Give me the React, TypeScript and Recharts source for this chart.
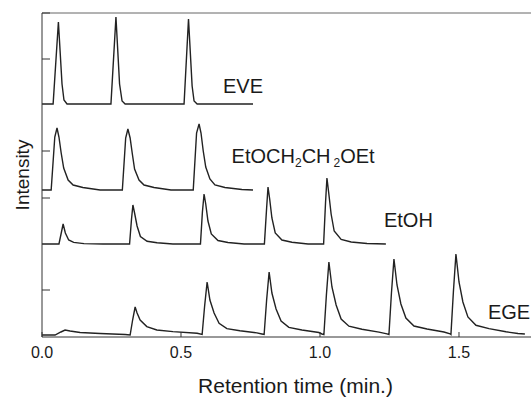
import React from 'react';
import { LineChart, Line, XAxis, YAxis, ReferenceLine, ReferenceDot, Label } from 'recharts';

const FONT = '"Liberation Sans", Arial, Helvetica, sans-serif';

// Retention time (min) vs. detector intensity (arbitrary units, relative to each trace's baseline)
const EVE: [number, number][] = [
  [0, 0], [0.040, 0], [0.059, 82], [0.072, 20], [0.079, 4], [0.090, 0],
  [0.248, 0], [0.266, 87], [0.279, 20], [0.288, 3], [0.299, 0],
  [0.511, 0], [0.527, 85], [0.540, 18], [0.547, 3], [0.558, 0], [0.759, 0],
];

const ETOCH: [number, number][] = [
  [0, 0], [0.033, 0], [0.046, 53], [0.054, 62], [0.061, 53], [0.069, 37], [0.078, 22], [0.094, 10], [0.112, 5], [0.147, 2.5], [0.209, 0],
  [0.289, 0], [0.301, 52], [0.309, 61], [0.317, 52], [0.325, 36], [0.333, 21], [0.349, 10], [0.367, 5], [0.403, 2.5], [0.464, 0],
  [0.544, 0], [0.556, 57], [0.565, 66], [0.572, 57], [0.580, 39], [0.589, 23], [0.604, 11], [0.622, 5], [0.658, 2.5], [0.719, 0.5], [0.759, 0],
];

const ETOH: [number, number][] = [
  [0, 0], [0.061, 0], [0.070, 12], [0.076, 20], [0.084, 11], [0.096, 4], [0.114, 1.6], [0.151, 0.4], [0.219, 0],
  [0.315, 0], [0.322, 25], [0.327, 39], [0.333, 31], [0.342, 18], [0.354, 7.5], [0.378, 2.7], [0.414, 1.2], [0.471, 0],
  [0.570, 0], [0.577, 32], [0.583, 50], [0.589, 40], [0.597, 23], [0.609, 10], [0.633, 3.5], [0.669, 1.5], [0.727, 0],
  [0.800, 0], [0.808, 36], [0.813, 57], [0.819, 45], [0.827, 26], [0.839, 11], [0.863, 4], [0.899, 1.7], [0.957, 0],
  [1.013, 0], [1.020, 42], [1.025, 66], [1.031, 52], [1.040, 30], [1.051, 13], [1.076, 4.6], [1.112, 2], [1.169, 0.5], [1.237, 0],
];

const EGE: [number, number][] = [
  [0, 0], [0.047, 0], [0.068, 3], [0.083, 5], [0.101, 4], [0.137, 2.5], [0.209, 1.5], [0.299, 0.5],
  [0.317, 0], [0.326, 15], [0.335, 28], [0.342, 22], [0.353, 15], [0.377, 8.4], [0.413, 5], [0.471, 3.4], [0.558, 1.7],
  [0.576, 0.5], [0.585, 29], [0.594, 53], [0.604, 35], [0.619, 22], [0.637, 11.7], [0.665, 6.4], [0.712, 4.2], [0.773, 2.1], [0.791, 1],
  [0.799, 0.5], [0.808, 35], [0.817, 63], [0.827, 42], [0.842, 26], [0.860, 14], [0.888, 7.6], [0.935, 5], [0.996, 2.5], [1.007, 1],
  [1.014, 0.5], [1.023, 40], [1.032, 73], [1.043, 48], [1.058, 30], [1.076, 16], [1.104, 8.8], [1.151, 5.8], [1.212, 2.9], [1.241, 1.2],
  [1.248, 0.5], [1.257, 42], [1.266, 76], [1.277, 50], [1.291, 31], [1.309, 17], [1.338, 9], [1.385, 6], [1.446, 3], [1.468, 1.2],
  [1.471, 0.5], [1.480, 44], [1.489, 81], [1.500, 53], [1.514, 33], [1.532, 18], [1.561, 9.7], [1.608, 6.4], [1.669, 3.2], [1.712, 1.5], [1.737, 1],
];

// vertical offsets of the stacked chromatograms
const OFFSET_EVE = 233;
const OFFSET_ETOCH = 147;
const OFFSET_ETOH = 93;
const OFFSET_EGE = 2;

const X_MAX = 1.759;
const Y_MAX = 324;
const X_TICKS = [0, 0.5, 1.0, 1.5];
const Y_TICKS = [47, 139, 186, 278, 324];

// trace label anchors: [time, intensity]
const LABEL_EVE: [number, number] = [0.651, 244];
const LABEL_ETOCH: [number, number] = [0.682, 174.5];
const LABEL_ETOH: [number, number] = [1.230, 110.5];
const LABEL_EGE: [number, number] = [1.604, 18.5];

const toData = (pts: [number, number][], off: number) => pts.map(([t, v]) => ({ t, v: v + off }));

const TRACE = '#222';
const TEXT = '#1a1a1a';

const textShape = (content: React.ReactNode) => (props: any) => (
  <text x={props.cx} y={props.cy} fontFamily={FONT} fontSize={20} fill={TEXT} textAnchor="start">
    {content}
  </text>
);

export default function App() {
  return (
    <div style={{ position: 'absolute', left: 0, top: 0, width: 531, height: 397, background: '#fff' }}>
      <LineChart width={531} height={397} margin={{ top: 13, right: 0, bottom: 0, left: 0 }}>
        <XAxis
          type="number"
          dataKey="t"
          domain={[0, X_MAX]}
          ticks={X_TICKS}
          allowDataOverflow
          height={60}
          tickFormatter={(v: number) => v.toFixed(1)}
          tickSize={-5}
          tickMargin={15}
          stroke="#333"
          tick={{ fill: TEXT, fontSize: 16, fontFamily: FONT }}
        >
          <Label value="Retention time (min.)" position="insideBottom" offset={4} dx={9} fontSize={21} fontFamily={FONT} fill={TEXT} />
        </XAxis>
        <YAxis
          type="number"
          domain={[0, Y_MAX]}
          ticks={Y_TICKS}
          allowDataOverflow
          width={42}
          tickSize={-8}
          tickFormatter={() => ''}
          stroke="#333"
        >
          <Label value="Intensity" angle={-90} position="center" dx={1} fontSize={19} fontFamily={FONT} fill={TEXT} />
        </YAxis>
        <ReferenceLine y={Y_MAX} stroke="#666" strokeWidth={1} />
        <Line data={toData(EVE, OFFSET_EVE)} dataKey="v" type="linear" stroke={TRACE} strokeWidth={1.4} dot={false} isAnimationActive={false} />
        <Line data={toData(ETOCH, OFFSET_ETOCH)} dataKey="v" type="linear" stroke={TRACE} strokeWidth={1.4} dot={false} isAnimationActive={false} />
        <Line data={toData(ETOH, OFFSET_ETOH)} dataKey="v" type="linear" stroke={TRACE} strokeWidth={1.4} dot={false} isAnimationActive={false} />
        <Line data={toData(EGE, OFFSET_EGE)} dataKey="v" type="linear" stroke={TRACE} strokeWidth={1.4} dot={false} isAnimationActive={false} />
        <ReferenceDot x={LABEL_EVE[0]} y={LABEL_EVE[1]} r={0} shape={textShape('EVE')} />
        <ReferenceDot
          x={LABEL_ETOCH[0]}
          y={LABEL_ETOCH[1]}
          r={0}
          shape={textShape(
            <>
              EtOCH<tspan fontSize={12} dy={4}>2</tspan>
              <tspan dy={-4}>CH</tspan>
              <tspan fontSize={12} dy={4} dx={3}>2</tspan>
              <tspan dy={-4}>OEt</tspan>
            </>
          )}
        />
        <ReferenceDot x={LABEL_ETOH[0]} y={LABEL_ETOH[1]} r={0} shape={textShape('EtOH')} />
        <ReferenceDot x={LABEL_EGE[0]} y={LABEL_EGE[1]} r={0} shape={textShape('EGE')} />
      </LineChart>
    </div>
  );
}
